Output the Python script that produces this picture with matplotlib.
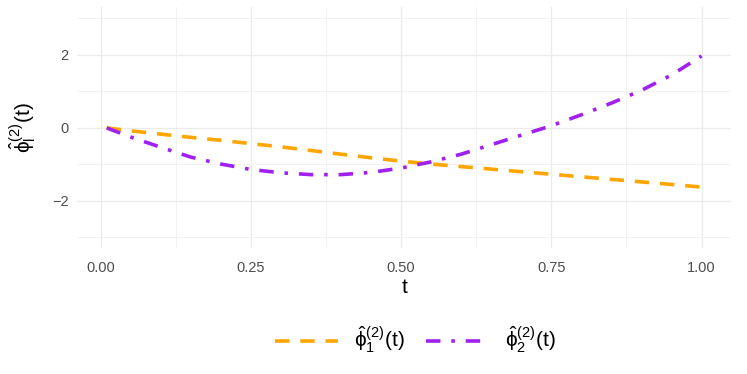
import numpy as np
import matplotlib.pyplot as plt
from matplotlib.lines import Line2D

# values
t = [0.01, 0.05, 0.10, 0.15, 0.20, 0.25, 0.30, 0.35, 0.40, 0.45, 0.50,
     0.55, 0.60, 0.65, 0.70, 0.75, 0.80, 0.85, 0.90, 0.95, 1.00]
phi1 = [0.0, -0.08, -0.17, -0.26, -0.34, -0.43, -0.52, -0.62, -0.72, -0.82, -0.91,
        -0.99, -1.06, -1.13, -1.20, -1.27, -1.34, -1.41, -1.48, -1.55, -1.62]
phi2 = [0.0, -0.25, -0.53, -0.80, -0.99, -1.14, -1.23, -1.28, -1.28, -1.22, -1.10,
        -0.93, -0.72, -0.46, -0.20, 0.06, 0.36, 0.68, 1.03, 1.45, 1.97]
labels = [r'$\hat{\phi}_1^{(2)}(\mathrm{t})$', r'$\hat{\phi}_2^{(2)}(\mathrm{t})$']
colors = ['#FFA500', '#A020F0']
xticks = [0.0, 0.25, 0.5, 0.75, 1.0]
xticklabels = ['0.00', '0.25', '0.50', '0.75', '1.00']
yticks = [-2, 0, 2]

plt.rcParams['font.family'] = ['Liberation Sans', 'DejaVu Sans']
plt.rcParams['mathtext.fontset'] = 'custom'
plt.rcParams['mathtext.rm'] = 'Liberation Sans'
plt.rcParams['mathtext.it'] = 'Liberation Sans'
plt.rcParams['mathtext.bf'] = 'Liberation Sans:bold'

fig = plt.figure(figsize=(7.47, 3.74), dpi=100)
ax = fig.add_axes([0.103, 0.336, 0.876, 0.644])

lw = 2.6
ls1 = (0, (4, 3))
ls2 = (0, (4, 3, 1, 3))
ax.plot(t, phi1, color=colors[0], lw=lw, linestyle=ls1, dash_capstyle='butt')
ax.plot(t, phi2, color=colors[1], lw=lw, linestyle=ls2, dash_capstyle='butt')

ax.set_xlim(-0.0395, 1.0495)
ax.set_ylim(-3.3, 3.3)
ax.set_xticks(xticks)
ax.set_xticklabels(xticklabels)
ax.set_yticks(yticks)
ax.set_xticks([0.125, 0.375, 0.625, 0.875], minor=True)
ax.set_yticks([-3, -1, 1, 3], minor=True)

ax.grid(which='major', color='#EBEBEB', lw=0.9)
ax.grid(which='minor', color='#F0F0F0', lw=0.6)
ax.set_axisbelow(True)
for s in ax.spines.values():
    s.set_visible(False)
ax.tick_params(which='both', length=0, labelsize=10.5, labelcolor='#4D4D4D')
ax.tick_params(axis='x', pad=9)
ax.tick_params(axis='y', pad=6)

ax.set_xlabel('t', fontsize=15, labelpad=2)
ax.set_ylabel(r'$\hat{\phi}_l^{(2)}(\mathrm{t})$', fontsize=15, labelpad=9)

handles = [Line2D([], [], color=colors[0], lw=lw, linestyle=ls1),
           Line2D([], [], color=colors[1], lw=lw, linestyle=ls2)]
fig.legend(handles, labels, loc='center', bbox_to_anchor=(0.556, 0.09), ncol=2,
           frameon=False, fontsize=15, handlelength=3.0, columnspacing=1.0,
           handletextpad=0.8)

fig.savefig('out.png', dpi=100)
